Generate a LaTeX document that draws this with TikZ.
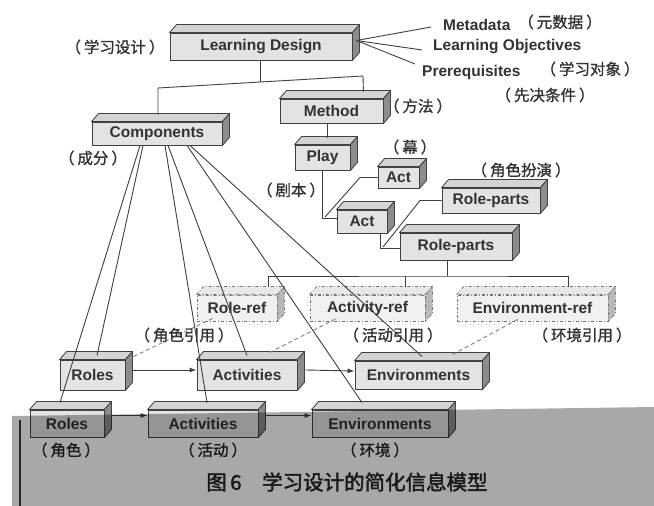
\documentclass[tikz,border=0pt]{standalone}
\usepackage{fontspec}
\setmainfont{Liberation Sans}
\newfontfamily\cjk[FakeBold=1.2]{Noto Sans CJK SC}
\newfontfamily\cjkcap[FakeBold=2]{Noto Sans CJK SC}
\usetikzlibrary{arrows.meta,calc}
\tikzset{
 nbox/.style={draw=black!75, fill=black!11, line width=0.9pt, inner sep=0pt,
   font=\bfseries\fontsize{15.5}{16}\selectfont, text=black!80},
 ntop/.style={draw=black!75, fill=black!17, line width=0.8pt, line join=round},
 nside/.style={draw=black!75, fill=black!45, line width=0.8pt, line join=round},
 rbox/.style={nbox, dash dot, draw=black!55, fill=black!6},
 rtop/.style={ntop, dash dot, draw=black!55, fill=black!9},
 rside/.style={nside, dash dot, draw=black!55, fill=black!28},
 zh/.style={font=\cjk\fontsize{15.5}{16}\selectfont, text=black!80, inner sep=0pt},
 en/.style={font=\bfseries\fontsize{15.5}{16}\selectfont, text=black!80, inner sep=0pt},
 conn/.style={draw=black!75, line width=0.9pt},
 arr/.style={conn, -{Latex[length=7pt,width=5pt]}},
 dsh/.style={draw=black!50, line width=0.9pt, dash pattern=on 4pt off 3pt},
}
\newcommand\cube[7]{%
 \node[#1box, minimum width={#5-#3}, minimum height={#6-#4}] (#2) at ({(#3+#5)/2},{(#4+#6)/2}) {#7};
 \path[#1top] (#2.north west) -- ++(7,-8) -- ([shift={(7,-8)}]#2.north east) -- (#2.north east) -- cycle;
 \path[#1side] (#2.north east) -- ++(7,-8) -- ([shift={(7,-8)}]#2.south east) -- (#2.south east) -- cycle;
}
\newcommand\pz[1]{（\hspace{3pt}#1\hspace{3pt}）}
\begin{document}
\begin{tikzpicture}[x=1pt,y=-1pt]
\useasboundingbox (0,0) rectangle (654,506);
\fill[white] (0,0) rectangle (654,506);

% boxes
\cube{n}{ld}{170}{33}{352}{60}{Learning Design}
\cube{n}{meth}{280}{99}{383}{123}{Method}
\cube{n}{comp}{92}{122}{222}{145}{Components}
\cube{n}{play}{295}{145}{350}{170}{Play}
\cube{n}{actA}{378}{167}{419}{188}{Act}
\cube{n}{actB}{337}{210}{387}{233}{Act}
\cube{n}{rpA}{442}{188}{540}{213}{Role-parts}
\cube{n}{rpB}{400}{233}{512}{260}{Role-parts}
\cube{r}{roleref}{197}{295}{277}{321}{Role-ref}
\cube{r}{actref}{310}{295}{425}{321}{Activity-ref}
\cube{r}{envref}{457}{295}{608}{321}{Environment-ref}
\cube{n}{rolesM}{60}{360}{125}{390}{Roles}
\cube{n}{actM}{197}{360}{297}{390}{Activities}
\cube{n}{envM}{355}{361}{482}{389}{Environments}
\cube{n}{rolesB}{30}{410}{104}{437}{Roles}
\cube{n}{actB2}{148}{410}{258}{437}{Activities}
\cube{n}{envB}{312}{410}{448}{437}{Environments}

% texts at top
\node[en, anchor=west] (md) at (443,25) {Metadata};
\node[en, anchor=west] (lo) at (433,47) {Learning Objectives};
\node[en, anchor=west] (pr) at (422,72) {Prerequisites};
\coordinate (ldc) at ([shift={(4,-6)}]ld.east);
\draw[conn] (ldc) -- ([xshift=-12pt,yshift=-2pt]md.west);
\draw[conn] (ldc) -- ([xshift=-11pt,yshift=-3pt]lo.west);
\draw[conn] (ldc) -- ([xshift=-7pt,yshift=8pt]pr.west);

% tree connectors
\coordinate (jl) at (158,88);
\coordinate (jr) at (363,76);
\coordinate (jm) at (260,82);
\draw[conn] ([xshift=-1pt]ld.south) -- (jm);
\draw[conn] ([xshift=1pt,yshift=7pt]comp.north) -- (jl) -- (jr) -- ([xshift=-20pt,yshift=7pt]meth.north east);
\draw[conn] ([xshift=4.5pt,yshift=7pt]play.north) -- ([xshift=4.5pt]play.north |- meth.south);
\draw[conn] (play.south) |- ([yshift=3pt]actB.west);
\coordinate (pa) at (325,217);
\draw[conn] (pa) -- (360,177.5) -- (actA.west);
\draw[conn] ([xshift=18pt]actB.south) |- ([yshift=-2pt]rpB.west);
\coordinate (pb) at (383,247);
\draw[conn] (pb) -- (420,200.5) -- (rpA.west);
\coordinate (bus) at (447,276);
\draw[conn] ([xshift=-9pt]rpB.south) -- (bus);
\draw[conn] ([xshift=31pt,yshift=8pt]roleref.north) |- (bus) -| ([xshift=35.5pt,yshift=8pt]envref.north);
\draw[conn] ([xshift=37.5pt]actref.north |- bus) -- ([xshift=37.5pt,yshift=8pt]actref.north);

% components fan
\draw[conn] ([xshift=-17pt]comp.south) -- ([xshift=-7pt,yshift=7pt]rolesB.north);
\draw[conn] ([xshift=-14pt]comp.south) -- ([xshift=4.5pt,yshift=4pt]rolesM.north);
\draw[conn] ([xshift=8pt]comp.south) -- ([xshift=4pt,yshift=7pt]actB2.north);
\draw[conn] ([xshift=11pt]comp.south) -- ([xshift=0pt,yshift=4pt]actM.north);
\draw[conn] ([xshift=30pt]comp.south) -- ([xshift=-18pt,yshift=7pt]envB.north);
\draw[conn] ([xshift=33pt]comp.south) -- ([xshift=3.5pt,yshift=4pt]envM.north);

% arrows
\draw[arr] ([xshift=8pt,yshift=5pt]rolesM.east) -- ([yshift=5pt]actM.west);
\draw[arr] ([xshift=8pt,yshift=5pt]actM.east) -- ([yshift=4pt]envM.west);
\draw[arr] ([xshift=8pt,yshift=8pt]rolesB.east) -- ([yshift=8pt]actB2.west);
\draw[arr] ([xshift=8pt,yshift=8pt]actB2.east) -- ([yshift=8pt]envB.west);

% dashed refs
\draw[dsh] ([xshift=8pt,yshift=3pt]rolesM.north east) -- ([xshift=16pt,yshift=3pt]roleref.south west);
\draw[dsh] ([xshift=73pt,yshift=7pt]actM.north west) -- ([xshift=27pt,yshift=3pt]actref.south west);
\draw[dsh] ([xshift=98pt,yshift=6pt]envM.north west) -- ([xshift=63pt,yshift=3pt]envref.south west);

% chinese labels
\node[zh] (l1) at (115,47) {\pz{学习设计}};
\node[zh] (l2) at (560,22) {\pz{元数据}};
\node[zh] (l3) at (590,69) {\pz{学习对象}};
\node[zh] (l4) at (545,95) {\pz{先决条件}};
\node[zh] (l5) at (418,106) {\pz{方法}};
\node[zh] (l6) at (410,147) {\pz{幕}};
\node[zh] (l7) at (521,170) {\pz{角色扮演}};
\node[zh] (l8) at (93,158) {\pz{成分}};
\node[zh] (l9) at (291,190) {\pz{剧本}};
\node[zh] (l10) at (184,335) {\pz{角色引用}};
\node[zh] (l11) at (393,335) {\pz{活动引用}};
\node[zh] (l12) at (582,335) {\pz{环境引用}};

% grey band
\fill[black, opacity=0.34] (12,416) -- (654,407) -- (654,506) -- (12,506) -- cycle;
\draw[black!85, line width=2.5pt] (20,420) -- (20,506);
\node[zh, text=black!90] (l13) at (66,450) {\pz{角色}};
\node[zh, text=black!90] (l14) at (213,450) {\pz{活动}};
\node[zh, text=black!90] (l15) at (375,450) {\pz{环境}};
\node[zh, text=black!90, font=\cjkcap\fontsize{20.5}{21}\selectfont] (cap) at (347,482) {图\,6\quad 学习设计的简化信息模型};
\end{tikzpicture}
\end{document}
